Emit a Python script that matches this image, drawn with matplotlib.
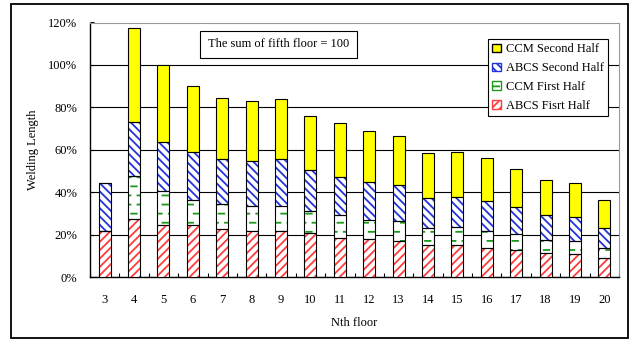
import matplotlib
matplotlib.use("Agg")
import matplotlib.pyplot as plt
import matplotlib.hatch as mhatch
from matplotlib.path import Path
from matplotlib.patches import Rectangle, Patch
from matplotlib.ticker import FuncFormatter, MultipleLocator
import numpy as np

plt.rcParams['font.family'] = ['Liberation Serif', 'DejaVu Serif']
plt.rcParams['font.size'] = 9
plt.rcParams['hatch.linewidth'] = 1.3

floors = [str(f) for f in range(3, 21)]
# segment heights in % of fifth floor total
abcs_first = [21.9, 27.3, 24.3, 24.3, 22.7, 21.9, 21.9, 20.7, 18.3, 17.9, 17.2, 14.9, 14.9, 13.6, 12.8, 11.3, 10.8, 8.9]
ccm_first = [0.0, 20.2, 16.2, 12.2, 11.6, 11.5, 11.5, 10.2, 10.9, 9.1, 9.4, 8.2, 8.5, 8.2, 7.4, 6.3, 6.4, 5.0]
abcs_second = [22.5, 25.6, 23.0, 22.6, 21.4, 21.2, 22.1, 19.4, 17.9, 17.7, 16.8, 14.1, 14.2, 13.8, 12.6, 11.4, 11.0, 9.0]
ccm_second = [0.0, 44.5, 36.5, 30.8, 28.5, 28.4, 28.3, 25.6, 25.4, 24.3, 23.1, 21.1, 21.2, 20.7, 18.0, 16.6, 16.0, 13.6]


# staggered short dashes, used in place of the '*' star hatch
class DashHatch(mhatch.HatchPatternBase):
    def __init__(self, hatch, density):
        self.rows = 11 if hatch.count('*') else 0
        self.cols = 8
        self.num_vertices = self.rows * self.cols * 2

    def set_vertices_and_codes(self, vertices, codes):
        k = 0
        for i in range(self.rows):
            y = (i + 0.5) / self.rows
            off = (i % 2) * 0.5 / self.cols
            for j in range(self.cols):
                x0 = j / self.cols + off
                vertices[k] = (x0, y)
                vertices[k + 1] = (x0 + 0.055, y)
                codes[k] = Path.MOVETO
                codes[k + 1] = Path.LINETO
                k += 2


green_hatch = "--"
try:
    mhatch._hatch_types = [t for t in mhatch._hatch_types if t is not mhatch.Stars] + [DashHatch]
    green_hatch = "*"
except AttributeError:
    pass

series = [
    ("ABCS Fisrt Half", abcs_first, "white", "#ff3b3b", "////"),
    ("CCM First Half", ccm_first, "white", "#1a9a1a", green_hatch),
    ("ABCS Second Half", abcs_second, "white", "#2233dd", "\\\\\\\\"),
    ("CCM Second Half", ccm_second, "#ffff00", "none", None),
]

fig = plt.figure(figsize=(6.31, 3.40), dpi=100)
ax = fig.add_axes([90 / 631, 1 - 277 / 340, 529 / 631, 254.5 / 340])

x = np.arange(len(floors))
width = 0.41
bottom = np.zeros(len(floors))
handles = []
for label, vals, face, hcol, hatch in series:
    v = np.array(vals) / 100.0
    if hatch:
        ax.bar(x, v, width, bottom=bottom, color=face, edgecolor=hcol,
               hatch=hatch, linewidth=0, zorder=3)
        ax.bar(x, v, width, bottom=bottom, color="none", edgecolor="black",
               linewidth=0.8, zorder=4)
    else:
        ax.bar(x, v, width, bottom=bottom, color=face, edgecolor="black",
               linewidth=0.8, zorder=3)
    handles.append(Patch(facecolor=face, edgecolor=hcol if hatch else "black",
                         hatch=hatch, label=label))
    bottom += v

ax.set_xlim(-0.5, len(floors) - 0.5)
ax.set_ylim(0, 1.2)
ax.yaxis.set_major_locator(MultipleLocator(0.2))
ax.yaxis.set_major_formatter(FuncFormatter(lambda y, p: f"{y * 100:.0f}%"))
ax.set_xticks(x, floors)
ax.set_xticks(np.arange(len(floors) + 1) - 0.5, minor=True)
ax.tick_params(axis='x', which='major', length=0, pad=12)
ax.tick_params(axis='x', which='minor', direction='in', length=3, width=0.8)
ax.tick_params(axis='y', direction='in', length=3, width=0.8, pad=9)
ax.grid(axis='y', color='black', linewidth=0.8, zorder=1)
ax.set_axisbelow(True)
for s in ['top', 'right']:
    ax.spines[s].set_color('#999999')
for s in ['left', 'bottom']:
    ax.spines[s].set_color('black')
    ax.spines[s].set_linewidth(1.0)

ax.set_ylabel("Welding Length", labelpad=7)
ax.set_xlabel("Nth floor", labelpad=8)

fig.text(278.5 / 631, 1 - 44 / 340, "The sum of fifth floor = 100", ha='center', va='center',
         fontsize=9, bbox=dict(boxstyle='square,pad=0.6', facecolor='white', edgecolor='black', linewidth=0.8))

h = handles[::-1]
leg = fig.legend(handles=h, labels=[p.get_label() for p in h], loc='upper right',
                 bbox_to_anchor=(608 / 631, 1 - 39 / 340), fancybox=False, framealpha=1,
                 edgecolor='black', handlelength=0.7, handleheight=0.7, handletextpad=0.4,
                 borderpad=0.35, labelspacing=0.55, borderaxespad=0)
leg.get_frame().set_linewidth(0.8)

fig.patches.append(Rectangle((11 / 631, 2 / 340), 617 / 631, 334 / 340, transform=fig.transFigure,
                             fill=False, edgecolor='black', linewidth=1.3))

fig.savefig("out.png", dpi=100)
